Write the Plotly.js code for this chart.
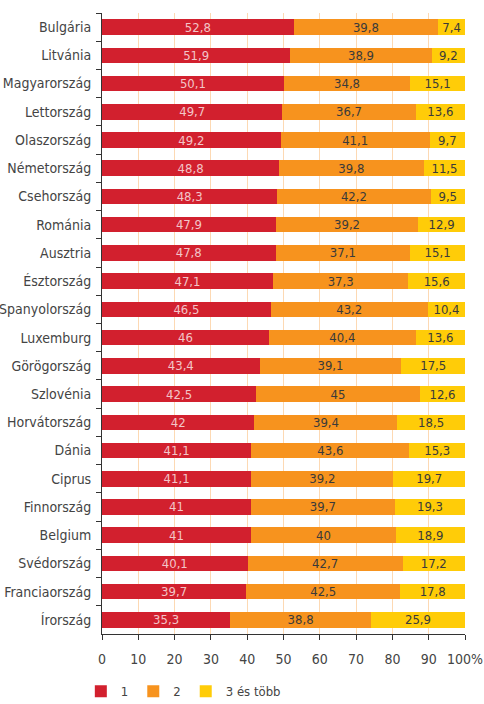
<!DOCTYPE html>
<html>
<head>
<meta charset="utf-8">
<script src="https://cdn.plot.ly/plotly-3.0.1.min.js"></script>
<style>
html,body{margin:0;padding:0;background:#fff;}
#chart{width:484px;height:704px;}
</style>
</head>
<body>
<div id="chart"></div>
<script>
var countries = ["Bulgária","Litvánia","Magyarország","Lettország","Olaszország","Németország","Csehország","Románia","Ausztria","Észtország","Spanyolország","Luxemburg","Görögország","Szlovénia","Horvátország","Dánia","Ciprus","Finnország","Belgium","Svédország","Franciaország","Írország"];
var one =   [52.8,51.9,50.1,49.7,49.2,48.8,48.3,47.9,47.8,47.1,46.5,46,43.4,42.5,42,41.1,41.1,41,41,40.1,39.7,35.3];
var two =   [39.8,38.9,34.8,36.7,41.1,39.8,42.2,39.2,37.1,37.3,43.2,40.4,39.1,45,39.4,43.6,39.2,39.7,40,42.7,42.5,38.8];
var three = [7.4,9.2,15.1,13.6,9.7,11.5,9.5,12.9,15.1,15.6,10.4,13.6,17.5,12.6,18.5,15.3,19.7,19.3,18.9,17.2,17.8,25.9];
var seriesNames = ["1","2","3 és több"];
var xTickVals = [0,10,20,30,40,50,60,70,80,90,100];
var xTickText = ["0","10","20","30","40","50","60","70","80","90","100%"];

var FONT = "'DejaVu Sans Condensed','Liberation Sans Narrow','Roboto',sans-serif";
function fmt(v){ return String(v).replace('.', ','); }

function mk(vals, name, color, txtColor){
  return {
    type:'bar', orientation:'h', name:name,
    x: vals, y: countries,
    marker:{color:color, line:{width:0}},
    text: vals.map(fmt),
    textposition:'inside', insidetextanchor:'middle', textangle:0,
    constraintext:'none',
    insidetextfont:{family:FONT, size:13, color:txtColor},
    hoverinfo:'none'
  };
}

var data = [
  mk(one, seriesNames[0], '#d2202e', '#f3c5c8'),
  mk(two, seriesNames[1], '#f7931e', '#3a3a3a'),
  mk(three, seriesNames[2], '#ffcc08', '#3a3a3a')
];

var layout = {
  width:484, height:704,
  margin:{l:102, r:19, t:13, b:70, autoexpand:false},
  barmode:'stack', bargap:0.45,
  paper_bgcolor:'#fff', plot_bgcolor:'#fff',
  font:{family:FONT, size:13, color:'#444'},
  showlegend:true,
  legend:{orientation:'h', xref:'container', yref:'container',
          x:0.167, xanchor:'left', y:0.018, yanchor:'middle',
          font:{family:FONT, size:13, color:'#444'}, traceorder:'normal',
          itemwidth:30, tracegroupgap:0},
  xaxis:{range:[0,100], tickvals:xTickVals, ticktext:xTickText,
         showgrid:true, gridcolor:'#fdd9b3', gridwidth:1,
         ticks:'outside', ticklen:5, tickcolor:'#333', tickwidth:1,
         showline:true, linecolor:'#333', linewidth:1,
         zeroline:false, fixedrange:true, ticklabelstandoff:7,
         tickfont:{family:FONT, size:14, color:'#444'}},
  yaxis:{type:'category', categoryorder:'array', categoryarray:countries,
         autorange:'reversed',
         ticks:'outside', tickson:'boundaries', ticklen:5, tickcolor:'#333', tickwidth:1,
         showline:true, linecolor:'#333', linewidth:1, showgrid:false,
         ticklabelstandoff:7,
         tickfont:{family:FONT, size:14, color:'#444'}, fixedrange:true}
};

Plotly.newPlot('chart', data, layout, {displayModeBar:false, staticPlot:true});
</script>
</body>
</html>
